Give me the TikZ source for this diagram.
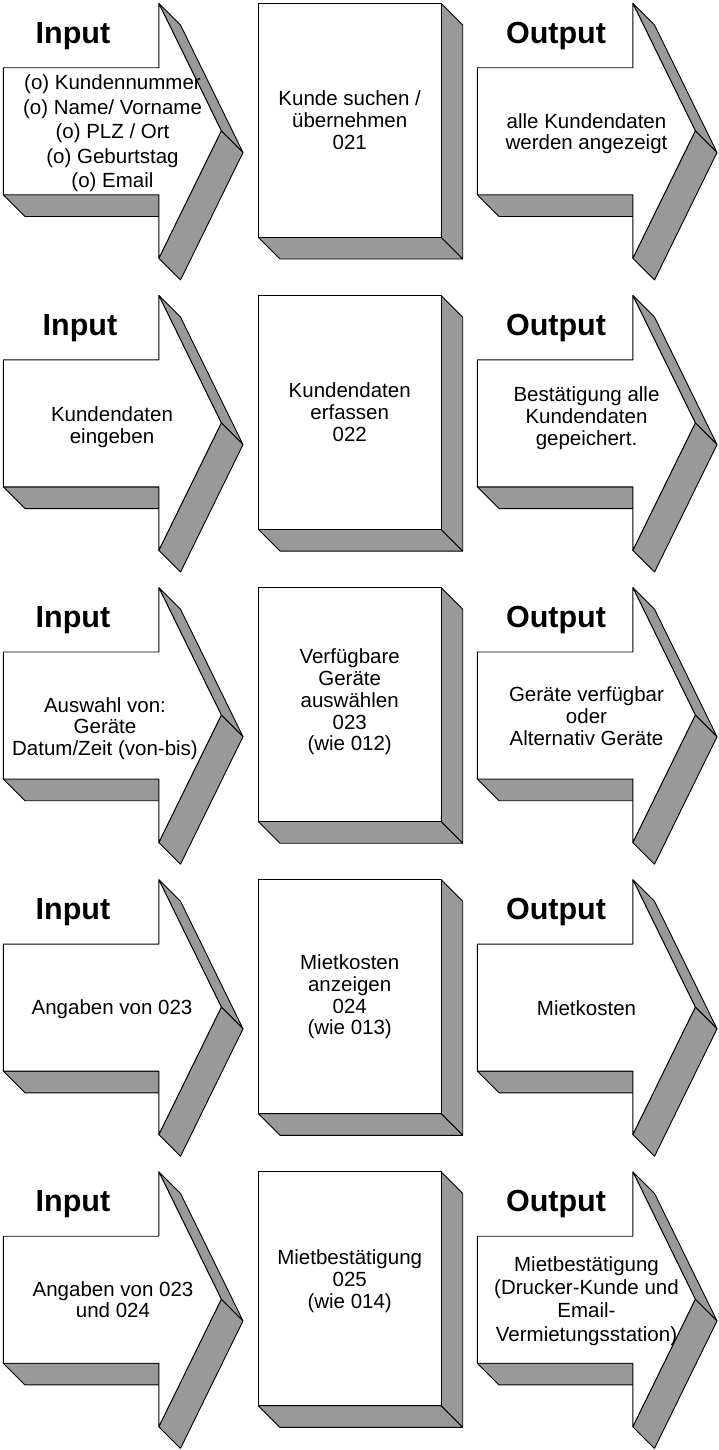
\documentclass[tikz,border=0pt]{standalone}
\usepackage{fontspec}
\setmainfont{Liberation Sans}
\definecolor{sidegray}{RGB}{153,153,153}
\tikzset{
  sideface/.style={draw=black, fill=sidegray, line width=0.9pt, line join=bevel},
  frontface/.style={draw=black, fill=white, line width=0.9pt, line join=bevel},
  titletext/.style={font=\fontsize{30.5}{36}\selectfont\bfseries, inner sep=0pt, anchor=base},
  bodytext/.style={font=\fontsize{20.5}{21.7}\selectfont, align=center, inner sep=0pt},
}
\newcommand\ioarrowshape{%
  \draw[sideface] (0,191.5) -- (21.7,213.2) -- (177.2,213.2) -- (155.5,191.5) -- cycle;
  \draw[sideface] (155.5,0) -- (177.2,21.7) -- (239.7,149.2) -- (218,127.5) -- cycle;
  \draw[sideface] (218,127.5) -- (239.7,149.2) -- (177.2,276.7) -- (155.5,255) -- cycle;
  \draw[frontface] (0,64.5) -- (155.5,64.5) -- (155.5,0) -- (218,127.5) -- (155.5,255) -- (155.5,191.5) -- (0,191.5) -- cycle;
}
\newcommand\procboxshape{%
  \draw[sideface] (182.7,0) -- (204.4,21.7) -- (204.4,255.7) -- (182.7,234) -- cycle;
  \draw[sideface] (0,234) -- (21.7,255.7) -- (204.4,255.7) -- (182.7,234) -- cycle;
  \draw[frontface] (0,0) rectangle (182.7,234);
}
\begin{document}
\begin{tikzpicture}[x=1pt,y=-1pt]
\useasboundingbox (0,0) rectangle (718,1450);
% shapes
\foreach \yy in {3.3,295.4,587.5,879.6,1171.7}{
  \begin{scope}[shift={(3.3,\yy)}]\ioarrowshape\end{scope}
  \begin{scope}[shift={(258.3,\yy)}]\procboxshape\end{scope}
  \begin{scope}[shift={(477.3,\yy)}]\ioarrowshape\end{scope}
}
% row 1
\node[titletext] (inT1) at (73,43.3) {Input};
\node[titletext] (outT1) at (556,43.3) {Output};
\node[bodytext, font=\fontsize{20.5}{24.5}\selectfont] (in1) at (112.5,133.3) {(o) Kundennummer\\(o) Name/ Vorname\\(o) PLZ / Ort\\(o) Geburtstag\\(o) Email};
\node[bodytext] (p1) at (349.7,120) {Kunde suchen /\\übernehmen\\021};
\node[bodytext] (out1) at (586.5,133.7) {alle Kundendaten\\werden angezeigt};
% row 2
\node[titletext] (inT2) at (80,335.4) {Input};
\node[titletext] (outT2) at (556,335.4) {Output};
\node[bodytext] (in2) at (112,427.4) {Kundendaten\\eingeben};
\node[bodytext] (p2) at (349.7,412) {Kundendaten\\erfassen\\022};
\node[bodytext] (out2) at (586.5,418) {Bestätigung alle\\Kundendaten\\gepeichert.};
% row 3
\node[titletext] (inT3) at (73,627.5) {Input};
\node[titletext] (outT3) at (556,627.5) {Output};
\node[bodytext] (in3) at (105,728.5) {Auswahl von:\\Geräte\\Datum/Zeit (von-bis)};
\node[bodytext] (p3) at (349.7,702) {Verfügbare\\Geräte\\auswählen\\023\\(wie 012)};
\node[bodytext] (out3) at (586.5,716) {Geräte verfügbar\\oder\\Alternativ Geräte};
% row 4
\node[titletext] (inT4) at (73,919.6) {Input};
\node[titletext] (outT4) at (556,919.6) {Output};
\node[bodytext] (in4) at (112,1009) {Angaben von 023};
\node[bodytext] (p4) at (349.7,997) {Mietkosten\\anzeigen\\024\\(wie 013)};
\node[bodytext] (out4) at (586.5,1008) {Mietkosten};
% row 5
\node[titletext] (inT5) at (73,1211.7) {Input};
\node[titletext] (outT5) at (556,1211.7) {Output};
\node[bodytext] (in5) at (113,1299.7) {Angaben von 023\\und 024};
\node[bodytext] (p5) at (349.7,1281) {Mietbestätigung\\025\\(wie 014)};
\node[bodytext, font=\fontsize{20.5}{23.3}\selectfont] (out5) at (586.5,1301) {Mietbestätigung\\(Drucker-Kunde und\\Email-\\Vermietungsstation)};
\end{tikzpicture}
\end{document}
